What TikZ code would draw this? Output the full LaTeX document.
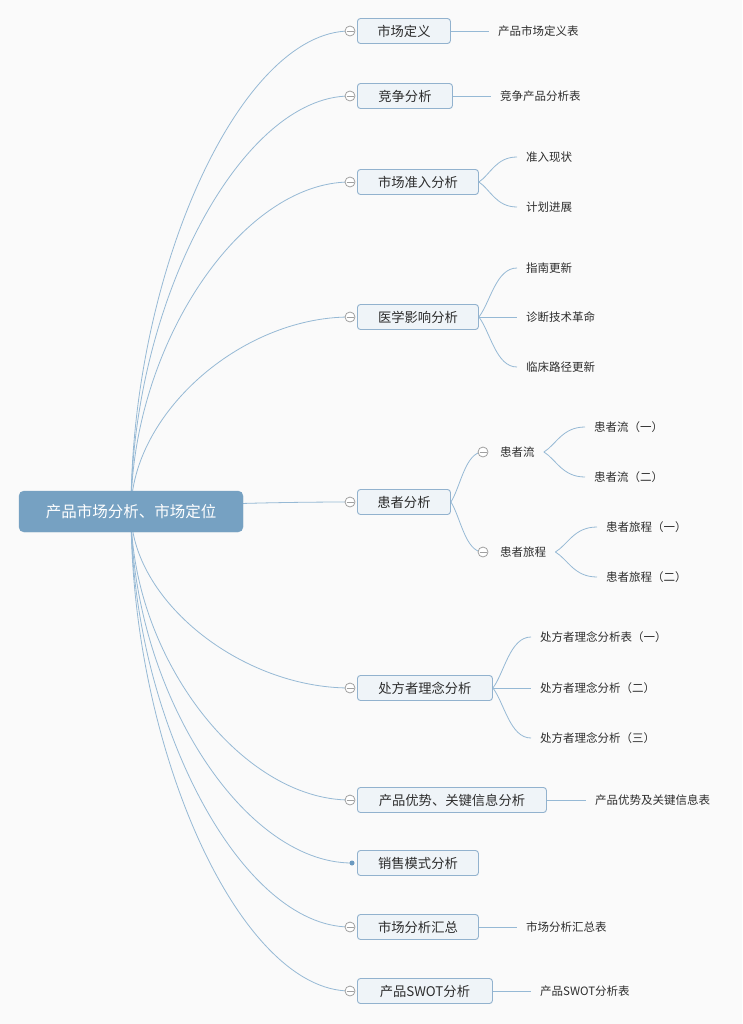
\documentclass[tikz,border=0pt]{standalone}
\usepackage{fontspec}
\setmainfont{Noto Sans CJK SC}
\usetikzlibrary{calc,backgrounds}
\definecolor{bgc}{RGB}{250,250,250}
\definecolor{rootc}{RGB}{118,161,194}
\definecolor{boxfill}{RGB}{239,244,248}
\definecolor{boxline}{RGB}{146,178,206}
\definecolor{linec}{RGB}{150,185,213}
\definecolor{togc}{RGB}{160,160,160}
\definecolor{txt}{RGB}{45,45,45}
\definecolor{dotc}{RGB}{108,154,192}
\tikzset{
  rootbox/.style={draw=rootc, fill=rootc, rounded corners=5pt, minimum width=224pt, minimum height=41pt, inner sep=0pt, text=white, font=\fontsize{15.5pt}{18pt}\selectfont},
  mainbox/.style={draw=boxline, fill=boxfill, line width=0.9pt, rounded corners=3pt, minimum height=25pt, inner sep=0pt, anchor=west, text=txt, font=\fontsize{13.3pt}{15pt}\selectfont},
  leaf/.style={anchor=west, inner xsep=9pt, inner ysep=2pt, text=txt, font=\fontsize{11.5pt}{13pt}\selectfont},
  tog/.style={circle, draw=togc, fill=white, line width=0.8pt, minimum size=10pt, inner sep=0pt,
    path picture={\draw[togc, line width=0.8pt] ([xshift=1.5pt]path picture bounding box.west) -- ([xshift=-1.5pt]path picture bounding box.east);}},
  dotn/.style={circle, fill=dotc, minimum size=5pt, inner sep=0pt},
  conn/.style={draw=linec, line width=0.8pt},
  curv/.style={to path={.. controls ($(\tikztostart)!0.5!(\tikztostart|-\tikztotarget)$) and ($(\tikztostart|-\tikztotarget)!0.5!(\tikztotarget)$) .. (\tikztotarget)}},
  scurv/.style={to path={.. controls ($(\tikztostart)!0.3!(\tikztotarget)$) and ($(\tikztostart|-\tikztotarget)!0.45!(\tikztotarget)$) .. (\tikztotarget)}}
}
\begin{document}
\begin{tikzpicture}[x=1pt,y=-1pt]
\useasboundingbox (0,0) rectangle (742,1024);
% root
\node[rootbox] (root) at (131,511.5) {产品市场分析、市场定位};
% main topics
\node[mainbox, minimum width=93pt] (m1) at (357,31) {市场定义};
\node[mainbox, minimum width=95pt] (m2) at (357,96) {竞争分析};
\node[mainbox, minimum width=121pt] (m3) at (357,182) {市场准入分析};
\node[mainbox, minimum width=121pt] (m4) at (357,317) {医学影响分析};
\node[mainbox, minimum width=93pt] (m5) at (357,502) {患者分析};
\node[mainbox, minimum width=135pt] (m6) at (357,688) {处方者理念分析};
\node[mainbox, minimum width=189pt] (m7) at (357,800) {产品优势、关键信息分析};
\node[mainbox, minimum width=121pt] (m8) at (357,863) {销售模式分析};
\node[mainbox, minimum width=121pt] (m9) at (357,927) {市场分析汇总};
\node[mainbox, minimum width=135pt] (m10) at (357,991) {产品SWOT分析};
% toggles
\node[tog] (t1) at (350,31) {};
\node[tog] (t2) at (350,96) {};
\node[tog] (t3) at (350,182) {};
\node[tog] (t4) at (350,317) {};
\node[tog] (t5) at (350,502) {};
\node[tog] (t6) at (350,688) {};
\node[tog] (t7) at (350,800) {};
\node[dotn] (t8) at (352,863) {};
\node[tog] (t9) at (350,927) {};
\node[tog] (t10) at (350,991) {};
% leaves
\node[leaf] (l1) at (489,31) {产品市场定义表};
\node[leaf] (l2) at (491,96) {竞争产品分析表};
\node[leaf] (l31) at (517,157) {准入现状};
\node[leaf] (l32) at (517,207) {计划进展};
\node[leaf] (l41) at (517,268) {指南更新};
\node[leaf] (l42) at (517,317) {诊断技术革命};
\node[leaf] (l43) at (517,367) {临床路径更新};
\node[leaf] (s51) at (491,452) {患者流};
\node[leaf] (s52) at (491,552) {患者旅程};
\node[tog] (t51) at (483,452) {};
\node[tog] (t52) at (483,552) {};
\node[leaf] (l511) at (585,427) {患者流（一）};
\node[leaf] (l512) at (585,477) {患者流（二）};
\node[leaf] (l521) at (597,527) {患者旅程（一）};
\node[leaf] (l522) at (597,577) {患者旅程（二）};
\node[leaf] (l61) at (531,637) {处方者理念分析表（一）};
\node[leaf] (l62) at (531,688) {处方者理念分析（二）};
\node[leaf] (l63) at (531,738) {处方者理念分析（三）};
\node[leaf] (l7) at (586,800) {产品优势及关键信息表};
\node[leaf] (l9) at (517,927) {市场分析汇总表};
\node[leaf] (l10) at (531,991) {产品SWOT分析表};
% connectors
\begin{scope}[on background layer]
\fill[bgc] (0,0) rectangle (742,1024);
\foreach \t in {t1,t2,t3,t4,t5,t6,t7,t8,t9,t10}
  \draw[conn] (root.center) to[curv] (\t.center);
\draw[conn] (m1.east) -- (l1.west);
\draw[conn] (m2.east) -- (l2.west);
\draw[conn] (m3.east) to[scurv] (l31.west);
\draw[conn] (m3.east) to[scurv] (l32.west);
\draw[conn] (m4.east) to[scurv] (l41.west);
\draw[conn] (m4.east) -- (l42.west);
\draw[conn] (m4.east) to[scurv] (l43.west);
\draw[conn] (m5.east) to[scurv] (t51.center);
\draw[conn] (m5.east) to[scurv] (t52.center);
\draw[conn] (s51.east) to[scurv] (l511.west);
\draw[conn] (s51.east) to[scurv] (l512.west);
\draw[conn] (s52.east) to[scurv] (l521.west);
\draw[conn] (s52.east) to[scurv] (l522.west);
\draw[conn] (m6.east) to[scurv] (l61.west);
\draw[conn] (m6.east) -- (l62.west);
\draw[conn] (m6.east) to[scurv] (l63.west);
\draw[conn] (m7.east) -- (l7.west);
\draw[conn] (m9.east) -- (l9.west);
\draw[conn] (m10.east) -- (l10.west);
\end{scope}
\end{tikzpicture}
\end{document}
